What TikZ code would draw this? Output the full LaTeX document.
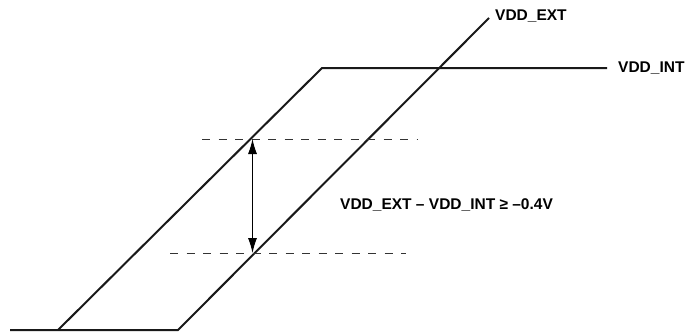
\documentclass[tikz,border=0pt]{standalone}
\usepackage{fontspec}
\setmainfont{Liberation Sans}
\usetikzlibrary{arrows.meta}
\begin{document}
\begin{tikzpicture}[x=1pt,y=-1pt,
  sig/.style={line width=2pt, color=black!90},
  guide/.style={line width=0.9pt, black!80, dash pattern=on 8pt off 8.5pt},
  lbl/.style={font=\bfseries\fontsize{15.5}{16}\selectfont, inner sep=0pt, anchor=west}]
\useasboundingbox (0,0) rectangle (687,333);
% signal corner points
\coordinate (b0) at (10,330);
\coordinate (b1) at (58,330);
\coordinate (b2) at (178,330);
\coordinate (i1) at (322,68);
\coordinate (i2) at (607,68);
\coordinate (e1) at (489,18);
% curves
\draw[sig] (b0) -- (b2) -- (e1);
\draw[sig] (b1) -- (i1) -- (i2);
% dashed guides
\coordinate (d1a) at (202,139);
\coordinate (d1b) at (418,139);
\coordinate (d2a) at (170,253);
\coordinate (d2b) at (406,253);
\draw[guide] (d1a) -- (d1b);
\draw[guide] (d2a) -- (d2b);
% arrow
\coordinate (a1) at (252.5,139);
\coordinate (a2) at (252.5,253);
\draw[line width=0.9pt, {Latex[length=15pt,width=9pt]}-{Latex[length=15pt,width=9pt]}] (a1) -- (a2);
% labels
\node[lbl] (lext) at (495,16) {VDD\_EXT};
\node[lbl] (lint) at (618,68) {VDD\_INT};
\node[lbl] (ldiff) at (340,205) {VDD\_EXT – VDD\_INT ≥ –0.4V};
\end{tikzpicture}
\end{document}
